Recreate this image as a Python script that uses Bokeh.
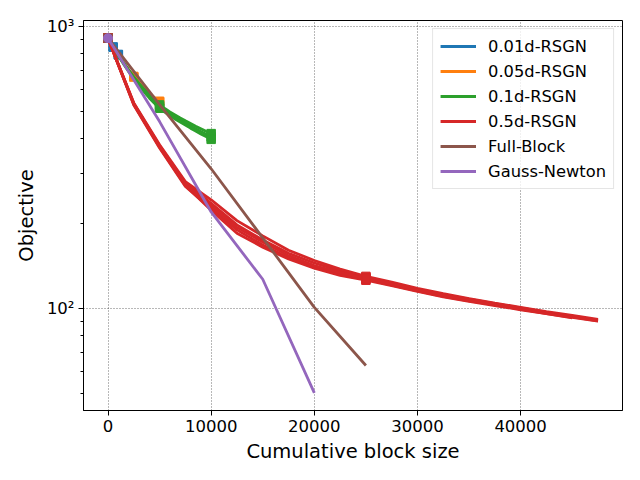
from bokeh.plotting import figure
from bokeh.models import (Range1d, FixedTicker, CustomJSTickFormatter, Legend, LegendItem)
from bokeh.embed import file_html
from bokeh.resources import INLINE

# ---------------- data ----------------
blue_x = [0, 50, 100, 150, 200, 250, 300, 350, 400, 450, 500, 550, 600, 650, 700,
          750, 800, 850, 900, 950, 1000]
blue_runs = [
    [909, 901, 894, 887, 880, 873, 866, 860, 854, 849, 844, 838, 833, 828, 823, 818, 813, 808, 803, 798, 793],
    [909, 902, 895, 888, 881, 875, 869, 863, 857, 851, 846, 841, 835, 830, 825, 820, 815, 810, 806, 801, 796],
]

orange_x = [0, 250, 500, 750, 1000, 1250, 1500, 1750, 2000, 2250, 2500, 2750, 3000,
            3250, 3500, 3750, 4000, 4250, 4500, 4750, 5000]
orange_runs = [
    [909, 877, 847, 818, 791, 766, 742, 720, 699, 680, 662, 646, 631, 617, 603, 590, 578, 567, 557, 548, 540],
    [909, 878, 849, 821, 794, 769, 745, 723, 702, 683, 665, 649, 634, 620, 606, 593, 581, 570, 560, 551, 543],
]

green_x = [0, 500, 1000, 1500, 2000, 2500, 3000, 3500, 4000, 4500, 5000, 5500, 6000,
           6500, 7000, 7500, 8000, 8500, 9000, 9500, 10000]
green_runs = [
    [909, 846, 790, 741, 697, 658, 624, 594, 567, 542, 520, 505, 491, 478, 466, 455, 444, 434, 424, 415, 406],
    [909, 848, 793, 745, 702, 663, 630, 600, 573, 549, 527, 512, 498, 486, 474, 463, 453, 443, 434, 425, 417],
    [909, 844, 787, 737, 692, 652, 617, 586, 558, 534, 513, 497, 483, 470, 458, 447, 436, 426, 416, 407, 398],
]

red_x_long = [0, 2500, 5000, 7500, 10000, 12500, 15000, 17500, 20000, 22500, 25000,
              27500, 30000, 32500, 35000, 37500, 40000, 42500, 45000, 47500]
red_x_short = [0, 2500, 5000, 7500, 10000, 12500, 15000, 17500, 20000, 22500, 25000,
               27500, 30000, 32500, 35000, 37500, 40000, 42500, 45000]
red_runs = [
    (red_x_long,  [909, 533, 378, 279, 236, 198, 175, 157, 145, 136, 129, 123, 117, 112, 108, 104, 100.5, 97, 94, 91]),
    (red_x_long,  [909, 527, 371, 271, 226, 190, 168, 151, 140, 132, 127, 121, 115.5, 110.5, 106.5, 103, 99.5, 96.5, 93.5, 90.5]),
    (red_x_long,  [909, 536, 381, 282, 243, 205, 181, 161, 148, 138, 130, 124, 118, 113, 108.5, 104.5, 101, 97.5, 94.5, 91.5]),
    (red_x_long,  [909, 529, 373, 273, 223, 185, 165, 150, 139, 131, 126, 120.5, 115, 110, 106, 102.5, 99, 96, 93, 90.2]),
    (red_x_short, [909, 531, 376, 276, 231, 194, 172, 154, 142, 134, 128, 122, 116.5, 111.5, 107, 103, 99.5, 96, 92.6]),
]

fb_x = [0, 5000, 10000, 15000, 20000, 25000]
fb_y = [909, 528, 313, 178, 101, 62.8]

gn_x = [0, 5000, 10000, 15000, 20000]
gn_y = [909, 460, 220, 127, 50.2]

labels = ["0.01d-RSGN", "0.05d-RSGN", "0.1d-RSGN", "0.5d-RSGN", "Full-Block", "Gauss-Newton"]
colors = ["#1f77b4", "#ff7f0e", "#2ca02c", "#d62728", "#8c564b", "#9467bd"]

x_ticks = [0, 10000, 20000, 30000, 40000]
y_major = [100, 1000]
y_minor = [50, 60, 70, 80, 90, 200, 300, 400, 500, 600, 700, 800, 900]

# ---------------- figure ----------------
FONT = "DejaVu Sans"
p = figure(width=640, height=480, y_axis_type="log",
           x_range=Range1d(-2375, 49875), y_range=Range1d(43.5, 1050),
           output_backend="svg", toolbar_location=None,
           min_border_left=83, min_border_right=18, min_border_top=20, min_border_bottom=70)
p.outline_line_color = "black"
p.outline_line_width = 1
p.background_fill_color = "white"

LW = 2.8
marker_every = 10
renderers = []

def add_runs(xs_runs, color, marker="square", msize=8.5):
    first = None
    for xs, ys in xs_runs:
        r = p.line(xs, ys, line_color=color, line_width=LW)
        if first is None:
            first = r
    for xs, ys in xs_runs:
        p.scatter(xs[::marker_every], ys[::marker_every], marker=marker, size=msize,
                  fill_color=color, line_color=color)
    return first

renderers.append(add_runs([(blue_x, r) for r in blue_runs], colors[0]))
renderers.append(add_runs([(orange_x, r) for r in orange_runs], colors[1]))
renderers.append(add_runs([(green_x, r) for r in green_runs], colors[2]))
renderers.append(add_runs(red_runs, colors[3]))
renderers.append(add_runs([(fb_x, fb_y)], colors[4]))
renderers.append(add_runs([(gn_x, gn_y)], colors[5], marker="circle", msize=9))

# axes
p.xaxis.ticker = FixedTicker(ticks=x_ticks)
p.yaxis.ticker = FixedTicker(ticks=y_major, minor_ticks=y_minor)
p.yaxis.formatter = CustomJSTickFormatter(code="""
const sup = {"0":"\u2070","1":"\u00b9","2":"\u00b2","3":"\u00b3","4":"\u2074","5":"\u2075","6":"\u2076","7":"\u2077","8":"\u2078","9":"\u2079","-":"\u207b"};
const e = Math.round(Math.log10(tick));
return "10" + String(e).split("").map(c => sup[c]).join("");
""")
for ax in (p.xaxis, p.yaxis):
    ax.axis_line_color = "black"
    ax.major_tick_line_color = "black"
    ax.minor_tick_line_color = "black"
    ax.major_tick_out = 5
    ax.major_tick_in = 0
    ax.minor_tick_out = 3
    ax.minor_tick_in = 0
    ax.major_label_text_font = FONT
    ax.major_label_text_font_size = "16.5px"
    ax.major_label_text_color = "black"
    ax.axis_label_text_font = FONT
    ax.axis_label_text_font_size = "19.5px"
    ax.axis_label_text_font_style = "normal"
    ax.axis_label_text_color = "black"
p.xaxis.minor_tick_line_color = None
p.xaxis.axis_label = "Cumulative block size"
p.yaxis.axis_label = "Objective"
p.xaxis.major_label_standoff = 4
p.yaxis.major_label_standoff = 4
p.xaxis.axis_label_standoff = 5
p.yaxis.axis_label_standoff = 6

for g in (p.xgrid, p.ygrid):
    g.grid_line_color = "black"
    g.grid_line_alpha = 0.7
    g.grid_line_width = 0.8
    g.grid_line_dash = "1 2"

legend = Legend(items=[LegendItem(label=l, renderers=[r]) for l, r in zip(labels, renderers)],
                location="top_right")
legend.label_text_font = FONT
legend.label_text_font_size = "16.3px"
legend.label_text_color = "black"
legend.glyph_width = 36
legend.glyph_height = 20
legend.label_height = 20
legend.spacing = 5
legend.padding = 7
legend.margin = 8
legend.label_standoff = 12
legend.border_line_color = "#cccccc"
legend.border_line_width = 1
legend.background_fill_alpha = 0.8
p.add_layout(legend)

open("out.html", "w").write(file_html(p, INLINE))
